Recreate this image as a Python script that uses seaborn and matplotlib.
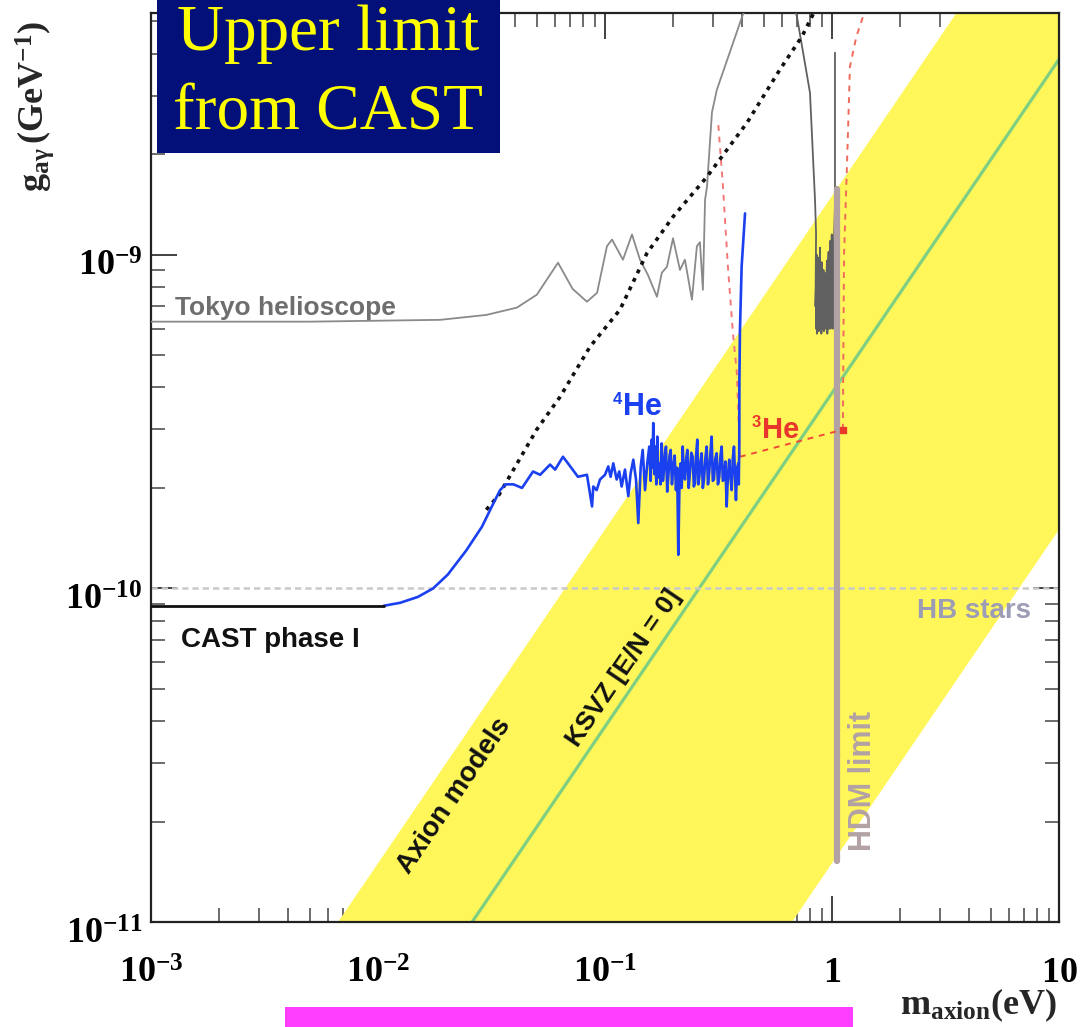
import numpy as np
import pandas as pd
import matplotlib
matplotlib.use("Agg")
import matplotlib.pyplot as plt
import seaborn as sns
import matplotlib.transforms as mtransforms
from matplotlib.patches import Rectangle
from matplotlib.ticker import LogLocator, NullFormatter

# ---------------- data ----------------
# Tokyo helioscope, low-mass branch
tokyo1_m = [0.001, 0.005, 0.0188, 0.030, 0.0409, 0.0501, 0.0621, 0.072, 0.0833, 0.0923,
            0.102, 0.1074, 0.120, 0.1315, 0.1426, 0.1546, 0.1694, 0.178, 0.1875, 0.1994,
            0.214, 0.225, 0.2416, 0.254, 0.262, 0.270, 0.276, 0.2815, 0.296, 0.311, 0.402, 0.44]
tokyo1_g = [6.3e-10, 6.3e-10, 6.38e-10, 6.6e-10, 6.94e-10, 7.59e-10, 9.46e-10, 7.9e-10, 7.23e-10, 7.69e-10,
            1.06e-9, 1.11e-9, 9.66e-10, 1.15e-9, 9.66e-10, 8.7e-10, 7.48e-10, 8.83e-10, 9.2e-10, 1.12e-9,
            9.0e-10, 9.66e-10, 7.33e-10, 1.06e-9, 1.09e-9, 7.85e-10, 1.46e-9, 1.60e-9, 2.67e-9, 3.12e-9, 5.17e-9, 6.0e-9]

# Tokyo helioscope, high-mass branch (dense band near 1 eV)
tokyo2_m = [0.66, 0.701, 0.800, 0.842, 0.851, 0.846, 0.856, 0.850, 0.862, 0.858, 0.870, 0.866, 0.878,
            0.874, 0.886, 0.882, 0.894, 0.890, 0.902, 0.898, 0.910, 0.906, 0.918, 0.914, 0.926, 0.922,
            0.934, 0.930, 0.942, 0.938, 0.950, 0.946, 0.958, 0.954, 0.966, 0.962, 0.974, 0.970, 0.982,
            0.978, 0.990, 0.986, 0.998, 0.994, 1.005, 1.010, 1.020, 1.031, 1.031]
tokyo2_g = [6.0e-9, 5.17e-9, 3.06e-9, 1.46e-9, 1.16e-9, 7.0e-10, 1.0e-9, 6.0e-10, 9.0e-10, 5.8e-10, 9.8e-10, 6.5e-10, 8.5e-10,
            5.9e-10, 1.05e-9, 6.2e-10, 8.0e-10, 6.0e-10, 9.5e-10, 5.8e-10, 7.5e-10, 6.1e-10, 9.0e-10, 6.0e-10, 7.8e-10, 5.9e-10,
            8.8e-10, 6.3e-10, 7.2e-10, 6.0e-10, 9.6e-10, 6.2e-10, 8.0e-10, 5.8e-10, 1.02e-9, 6.5e-10, 8.5e-10, 6.0e-10, 1.10e-9,
            6.4e-10, 9.0e-10, 6.0e-10, 1.15e-9, 7.0e-10, 1.0e-9, 6.0e-10, 1.1e-9, 1.4e-9, 4.03e-9]

# CAST phase I (black)
cast1_m = [0.001, 0.005, 0.0106]
cast1_g = [8.87e-11, 8.87e-11, 8.87e-11]

# CAST phase I extension (black dotted)
cast1x_m = [0.030, 0.034, 0.050, 0.0634, 0.0859, 0.1164, 0.153, 0.1995, 0.281, 0.423, 0.590, 0.738, 0.825, 0.86]
cast1x_g = [1.72e-10, 1.9e-10, 2.99e-10, 3.75e-10, 5.3e-10, 6.84e-10, 1.01e-9, 1.3e-9, 1.71e-9, 2.49e-9,
            3.59e-9, 4.51e-9, 5.25e-9, 5.6e-9]

# CAST 4He phase (blue)
he4_m = [0.0106, 0.0125, 0.0150, 0.0175, 0.0203, 0.0245, 0.0287, 0.0320, 0.0345, 0.0365, 0.0395, 0.0431,
         0.0482, 0.0518, 0.0573, 0.0603, 0.0653, 0.0687, 0.0760, 0.0833, 0.0877, 0.0888,
         0.0919, 0.0951, 0.1000, 0.1034, 0.1059, 0.1088, 0.1126, 0.1156, 0.1184, 0.1225, 0.1267, 0.1297,
         0.1333, 0.1370, 0.1402, 0.1437, 0.1466, 0.1501, 0.1536, 0.1567, 0.1590, 0.1606, 0.1620, 0.1632,
         0.1650, 0.1666, 0.1683, 0.1700, 0.1718, 0.1735, 0.1757, 0.1778, 0.1800, 0.1820, 0.1840, 0.1857,
         0.1880, 0.1901, 0.1925, 0.1947, 0.1973, 0.2000, 0.2028, 0.2055, 0.2080, 0.2104, 0.2130, 0.2156,
         0.2178, 0.2200, 0.2226, 0.2252, 0.2280, 0.2306, 0.2338, 0.2369, 0.2400, 0.2435, 0.2463, 0.2492,
         0.2520, 0.2551, 0.2577, 0.2603, 0.2635, 0.2667, 0.2698, 0.2730, 0.2768, 0.2806, 0.2843, 0.2880,
         0.2915, 0.2951, 0.2985, 0.3020, 0.3062, 0.3105, 0.3146, 0.3188, 0.3227, 0.3266, 0.3305, 0.3344,
         0.3390, 0.3436, 0.3482, 0.3529, 0.3571, 0.3614, 0.3657, 0.3701, 0.3738, 0.3776, 0.3821, 0.3866,
         0.3885, 0.3905, 0.391, 0.393, 0.400, 0.414]
he4_g = [8.87e-11, 9.05e-11, 9.43e-11, 1.0e-10, 1.10e-10, 1.30e-10, 1.53e-10, 1.78e-10, 1.97e-10, 2.05e-10, 2.05e-10, 2.0e-10,
         2.24e-10, 2.19e-10, 2.35e-10, 2.27e-10, 2.48e-10, 2.37e-10, 2.16e-10, 2.19e-10, 1.76e-10, 2.02e-10,
         1.97e-10, 2.12e-10, 2.19e-10, 2.32e-10, 2.16e-10, 2.37e-10, 2.12e-10, 2.24e-10, 2.02e-10, 2.27e-10, 1.89e-10, 2.21e-10,
         2.43e-10, 2.12e-10, 1.57e-10, 2.32e-10, 2.60e-10, 1.97e-10, 2.37e-10, 2.66e-10, 2.10e-10, 2.79e-10, 2.30e-10, 3.13e-10,
         2.20e-10, 2.66e-10, 2.05e-10, 2.85e-10, 2.15e-10, 2.37e-10, 2.05e-10, 2.72e-10, 2.10e-10, 2.27e-10, 2.55e-10, 2.66e-10,
         1.95e-10, 2.16e-10, 2.50e-10, 2.60e-10, 2.05e-10, 2.32e-10, 2.50e-10, 1.97e-10, 2.30e-10, 1.26e-10, 2.10e-10, 2.37e-10,
         2.00e-10, 2.66e-10, 2.20e-10, 2.12e-10, 2.45e-10, 2.60e-10, 2.00e-10, 2.24e-10, 2.55e-10, 2.48e-10, 2.02e-10, 2.07e-10,
         2.50e-10, 2.79e-10, 2.05e-10, 2.16e-10, 2.40e-10, 2.54e-10, 2.00e-10, 2.12e-10, 2.45e-10, 2.66e-10, 2.05e-10, 2.24e-10,
         2.55e-10, 2.85e-10, 2.10e-10, 2.12e-10, 2.45e-10, 2.54e-10, 2.05e-10, 2.16e-10, 2.50e-10, 2.66e-10, 2.10e-10, 2.12e-10,
         2.40e-10, 1.76e-10, 2.20e-10, 2.43e-10, 2.15e-10, 1.97e-10, 2.45e-10, 2.66e-10, 2.20e-10, 1.84e-10, 2.30e-10, 2.37e-10,
         2.05e-10, 2.66e-10, 4.2e-10, 5.84e-10, 9.22e-10, 1.33e-9]

# CAST 3He phase (red dashed)
he3_left_m = [0.393, 0.381, 0.366, 0.348, 0.331, 0.315]
he3_left_g = [2.48e-10, 4.43e-10, 5.84e-10, 9.2e-10, 1.6e-9, 2.5e-9]
he3_bottom_m = [0.393, 1.117]
he3_bottom_g = [2.48e-10, 2.99e-10]
he3_right_m = [1.117, 1.13, 1.164, 1.20, 1.28, 1.37, 1.42]
he3_right_g = [2.99e-10, 1.0e-9, 1.84e-9, 3.66e-9, 4.5e-9, 5.17e-9, 5.6e-9]

# Axion model band, KSVZ line, HB and HDM limits
band_m = [0.001, 10.0]
band_lo = [1.5e-14, 1.5e-10]
band_hi = [1.5e-12, 1.5e-8]
ksvz_m = [0.001, 10.0]
ksvz_g = [3.85e-13, 3.85e-9]
hb_g = 1.0e-10
hdm_m = [1.05, 1.05]
hdm_g = [1.52e-11, 1.57e-9]

x_ticks = [1e-3, 1e-2, 1e-1, 1, 10]
x_ticklabels = [r"$\mathbf{10^{-3}}$", r"$\mathbf{10^{-2}}$", r"$\mathbf{10^{-1}}$", r"$\mathbf{1}$", r"$\mathbf{10}$"]
y_ticks = [1e-11, 1e-10, 1e-9]
y_ticklabels = [r"$\mathbf{10^{-11}}$", r"$\mathbf{10^{-10}}$", r"$\mathbf{10^{-9}}$"]

# ---------------- style ----------------
sns.set_theme(style="ticks")
plt.rcParams["font.family"] = ["Liberation Sans", "DejaVu Sans"]
plt.rcParams["mathtext.fontset"] = "custom"
plt.rcParams["mathtext.rm"] = "Liberation Serif"
plt.rcParams["mathtext.bf"] = "Liberation Serif:bold"
plt.rcParams["mathtext.it"] = "Liberation Serif:italic:bold"

fig = plt.figure(figsize=(10.81, 10.27), dpi=100)
ax = fig.add_axes([0.1397, 0.1022, 0.8399, 0.8851])
ax.set_xscale("log")
ax.set_yscale("log")
ax.set_xlim(1e-3, 10)
ax.set_ylim(1e-11, 5.3e-9)

# band
ax.fill_between(band_m, band_lo, band_hi, color="#fff65a", lw=0, zorder=1)
sns.lineplot(x=ksvz_m, y=ksvz_g, ax=ax, color="#7fcf82", lw=2.3, sort=False, estimator=None, zorder=2)
ax.axhline(hb_g, color="#c9c9c9", lw=1.8, ls=(0, (2.5, 1.6)), zorder=2)

# Tokyo
sns.lineplot(x=tokyo1_m, y=tokyo1_g, ax=ax, color="#8a8a8a", lw=1.3, sort=False, estimator=None, zorder=3)
sns.lineplot(x=tokyo2_m, y=tokyo2_g, ax=ax, color="#606060", lw=1.3, sort=False, estimator=None, zorder=3)

# HDM bar
sns.lineplot(x=hdm_m, y=hdm_g, ax=ax, color="#b3a2a4", lw=4.5, sort=False, estimator=None, zorder=4)

# 3He red dashed
for mm, gg, col in [(he3_left_m, he3_left_g, "#f27878"), (he3_right_m, he3_right_g, "#f06a5a"),
                    (he3_bottom_m, he3_bottom_g, "#ee4a35")]:
    sns.lineplot(x=mm, y=gg, ax=ax, color=col, lw=1.4, sort=False, estimator=None, zorder=5)
for l in ax.lines[-3:]:
    l.set_linestyle((0, (3, 3)))
ax.plot([he3_right_m[0]], [he3_right_g[0]], "s", color="#e83a2a", ms=4, zorder=6)

# CAST phase I extension (dotted)
sns.lineplot(x=cast1x_m, y=cast1x_g, ax=ax, color="#111111", lw=2.6, sort=False, estimator=None, zorder=6)
ax.lines[-1].set_linestyle((0, (1.1, 1.5)))

# CAST 4He and phase I
sns.lineplot(x=he4_m, y=he4_g, ax=ax, color="#1a40f0", lw=1.9, sort=False, estimator=None, zorder=7)
sns.lineplot(x=cast1_m, y=cast1_g, ax=ax, color="#111111", lw=2.0, sort=False, estimator=None, zorder=7)

# ---------------- labels in the plot ----------------
lab = dict(fontweight="bold", zorder=9)
ax.text(1.277e-3, 6.6e-10, "Tokyo helioscope", fontsize=19, color="#6e6e6e", ha="left", va="baseline", **lab)
ax.text(1.355e-3, 6.68e-11, "CAST phase I", fontsize=20, color="#111111", ha="left", va="baseline", **lab)
ax.text(2.37, 8.16e-11, "HB stars", fontsize=20, color="#9c9cb6", ha="left", va="baseline", **lab)
ax.text(1.37, 2.65e-11, "HDM limit", fontsize=22, color="#b3a2a4", ha="center", va="center", rotation=90, **lab)
ax.text(0.0216, 2.39e-11, "Axion models", fontsize=20, color="#111111", ha="center", va="center",
        rotation=55.8, rotation_mode="anchor", **lab)
ax.text(0.1213, 5.78e-11, "KSVZ [E/N = 0]", fontsize=19, color="#111111", ha="center", va="center",
        rotation=55.8, rotation_mode="anchor", **lab)
ax.text(0.120, 3.31e-10, "He", fontsize=22, color="#1a40f0", ha="left", va="baseline", **lab)
ax.annotate("4", xy=(0.120, 3.31e-10), xytext=(-1, 11), textcoords="offset pixels", fontsize=12,
            color="#1a40f0", ha="right", va="baseline", **lab)
ax.text(0.492, 2.83e-10, "He", fontsize=21, color="#e8362c", ha="left", va="baseline", **lab)
ax.annotate("3", xy=(0.492, 2.83e-10), xytext=(-1, 11), textcoords="offset pixels", fontsize=12,
            color="#e8362c", ha="right", va="baseline", **lab)

# ---------------- axes cosmetics ----------------
ax.set_xticks(x_ticks)
ax.set_xticklabels(x_ticklabels)
ax.set_yticks(y_ticks)
ax.set_yticklabels(y_ticklabels)
ax.xaxis.set_minor_locator(LogLocator(base=10, subs=np.arange(2, 10)))
ax.yaxis.set_minor_locator(LogLocator(base=10, subs=np.arange(2, 10)))
ax.xaxis.set_minor_formatter(NullFormatter())
ax.yaxis.set_minor_formatter(NullFormatter())
ax.tick_params(which="major", direction="in", length=19, width=1.3, colors="#333333",
               top=True, right=True, labelsize=26, labelcolor="black")
ax.tick_params(axis="x", which="major", pad=24)
ax.tick_params(axis="y", which="major", pad=6)
ax.tick_params(which="minor", direction="in", length=10, width=1.1, colors="#444444", top=True, right=True)
shift = mtransforms.ScaledTranslation(0, -8 / 100, fig.dpi_scale_trans)
for t in ax.get_yticklabels():
    t.set_transform(t.get_transform() + shift)
for s in ax.spines.values():
    s.set_linewidth(1.6)
    s.set_color("#222222")
ax.set_xlabel("")
ax.set_ylabel("")

fig.text(0.0324, 0.896, r"$\mathbf{g_{a\gamma}\,(GeV^{-1})}$", rotation=90, fontsize=26,
         ha="center", va="center")
fig.text(1057 / 1081, 13 / 1027, r"$\mathbf{m_{axion}(eV)}$", fontsize=26, ha="right", va="baseline")

# title box
fig.add_artist(Rectangle((157 / 1081, 1 - 152.5 / 1027), 343 / 1081, 152.5 / 1027,
                         transform=fig.transFigure, facecolor="#03107a", edgecolor="none", zorder=10))
fig.text(328 / 1081, 1 - 50 / 1027, "Upper limit", family="Liberation Serif", fontsize=47,
         color="#ffff00", ha="center", va="baseline", zorder=11)
fig.text(328 / 1081, 1 - 129 / 1027, "from CAST", family="Liberation Serif", fontsize=47,
         color="#ffff00", ha="center", va="baseline", zorder=11)

# magenta bar
fig.add_artist(Rectangle((285 / 1081, 0), 568 / 1081, 20 / 1027, transform=fig.transFigure,
                         facecolor="#ff3dff", edgecolor="none", zorder=10))

fig.savefig("out.png", dpi=100)
